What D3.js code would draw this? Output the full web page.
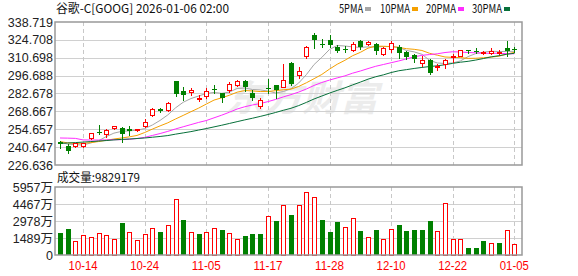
<!DOCTYPE html>
<html>
<head>
<meta charset="utf-8">
<script src="https://cdn.jsdelivr.net/npm/d3@7"></script>
<style>
  body { margin: 0; background: #fff; }
  text { font-family: "Liberation Sans", "Noto Sans CJK SC", sans-serif; }
  .cjk { font-family: "Noto Sans CJK SC", sans-serif; }
</style>
</head>
<body>
<div id="chart"></div>
<script>
const title = "谷歌-C[GOOG] 2026-01-06 02:00";

const dates = ["10-09","10-10","10-13","10-14","10-15","10-16","10-17","10-20","10-21","10-22",
  "10-23","10-24","10-27","10-28","10-29","10-30","10-31","11-03","11-04","11-05",
  "11-06","11-07","11-10","11-11","11-12","11-13","11-14","11-17","11-18","11-19",
  "11-20","11-21","11-24","11-25","11-26","11-28","12-01","12-02","12-03","12-04",
  "12-05","12-08","12-09","12-10","12-11","12-12","12-15","12-16","12-17","12-18",
  "12-19","12-22","12-23","12-24","12-26","12-29","12-30","12-31","01-02","01-05"];

const opens = [244.9, 241.7, 241.5, 241.5, 247.7, 252.2, 250.6, 255.3, 255.3, 254.5,
  253.7, 257.1, 265.7, 270.4, 269.6, 292.4, 284.8, 283.5, 278.3, 280.6,
  286.3, 282.7, 285.3, 289.2, 292.6, 282.7, 272.7, 286.6, 289.2, 288.0,
  306.2, 297.4, 311.8, 328.2, 321.8, 324.3, 318.8, 317.6, 316.6, 323.5,
  321.2, 321.5, 314.0, 317.9, 319.2, 315.3, 313.2, 306.5, 308.7, 303.3,
  305.8, 310.9, 312.1, 316.5, 316.2, 314.8, 314.2, 314.8, 318.4, 317.6];
const highs = [245.6, 243.0, 244.0, 244.2, 252.0, 257.9, 254.5, 257.4, 256.1, 257.1,
  255.0, 262.4, 271.5, 271.2, 276.1, 292.8, 287.9, 286.6, 281.7, 287.1,
  289.2, 283.2, 291.8, 293.1, 293.1, 285.3, 278.8, 294.4, 289.4, 305.5,
  307.0, 303.5, 319.8, 329.8, 325.2, 328.3, 320.3, 319.7, 323.1, 324.4,
  323.8, 322.3, 318.8, 323.6, 321.0, 315.8, 314.0, 312.4, 310.1, 305.8,
  310.1, 314.0, 317.0, 316.7, 318.3, 315.8, 318.3, 316.6, 324.0, 319.0];
const lows = [240.0, 236.4, 240.8, 240.5, 246.8, 251.0, 248.7, 254.8, 244.8, 250.1,
  253.2, 256.6, 265.0, 268.1, 269.1, 280.6, 277.6, 281.4, 277.0, 279.5,
  282.7, 276.2, 284.0, 288.4, 284.7, 277.5, 271.7, 282.7, 279.5, 287.6,
  289.0, 295.2, 310.8, 318.5, 319.0, 319.2, 315.0, 315.3, 315.8, 317.5,
  320.5, 313.4, 313.2, 315.3, 310.5, 309.8, 307.0, 304.5, 297.8, 301.0,
  302.7, 307.4, 311.9, 314.2, 314.5, 314.0, 313.5, 313.5, 311.7, 315.4];
const closes = [242.8, 237.8, 243.6, 243.8, 251.4, 251.6, 254.0, 257.1, 250.9, 253.2,
  254.5, 260.5, 270.9, 268.9, 274.9, 281.9, 281.8, 285.3, 278.9, 285.0,
  285.3, 279.3, 290.5, 292.6, 287.9, 278.8, 277.5, 286.0, 285.3, 293.2,
  290.0, 300.2, 319.0, 324.8, 321.2, 320.6, 315.8, 317.1, 321.5, 318.8,
  323.0, 315.6, 318.2, 322.2, 314.8, 311.3, 310.1, 308.7, 298.8, 304.2,
  309.3, 312.1, 316.6, 316.0, 315.8, 315.2, 315.6, 315.2, 316.0, 317.2];

// volume in 万 (10k shares)
const volumes = [1919, 2267, 1192, 1715, 1570, 1890, 1744, 1395, 2791, 1977,
  1279, 1802, 2355, 2006, 2587, 4942, 3052, 1977, 1831, 1977,
  2355, 2180, 1890, 1366, 1657, 1831, 1831, 3459, 2965, 4345,
  3488, 4419, 5552, 5116, 3052, 2006, 2878, 2413, 3198, 2093,
  1541, 2180, 1366, 2238, 2616, 2093, 2180, 2180, 2965, 2064,
  4593, 1366, 1366, 610, 610, 1221, 1017, 1047, 2151, 982.9179];

const ma5 = [244.5, 243.0, 242.6, 242.3, 243.9, 245.6, 248.9, 251.6, 253.0, 253.4,
  253.9, 255.2, 258.0, 261.6, 265.9, 271.4, 275.8, 278.7, 280.7, 282.7,
  283.5, 282.8, 283.8, 286.6, 287.0, 285.8, 285.5, 284.6, 283.1, 284.2,
  286.4, 290.9, 297.5, 305.4, 311.0, 317.2, 320.3, 319.9, 319.2, 318.8,
  319.2, 319.2, 319.4, 319.6, 318.8, 316.4, 315.3, 313.4, 308.7, 306.6,
  306.2, 306.6, 308.2, 311.6, 314.0, 315.1, 315.8, 315.6, 315.6, 315.8];
const ma10 = [245.0, 244.0, 243.6, 243.6, 244.2, 245.0, 246.0, 247.0, 247.8, 248.7,
  249.8, 252.1, 254.8, 257.3, 259.7, 262.7, 265.5, 268.4, 271.2, 274.4,
  277.5, 279.3, 281.3, 283.7, 285.0, 284.7, 284.2, 284.2, 284.9, 285.6,
  286.1, 288.2, 291.1, 294.3, 297.6, 301.8, 305.6, 308.7, 312.3, 314.9,
  318.2, 319.8, 319.7, 319.4, 318.8, 317.8, 317.3, 316.4, 314.2, 312.7,
  311.3, 311.0, 310.8, 310.2, 310.3, 310.7, 311.2, 311.9, 313.6, 314.9];
const ma20 = [247.8, 247.7, 247.5, 246.3, 246.2, 246.2, 246.3, 246.5, 246.5, 246.8,
  247.4, 248.3, 249.8, 251.3, 253.0, 254.9, 256.6, 258.3, 260.0, 261.5,
  263.6, 265.7, 268.0, 270.5, 272.3, 273.7, 274.8, 276.3, 278.0, 280.0,
  281.8, 283.8, 286.2, 289.0, 291.3, 293.2, 294.9, 296.5, 298.6, 300.3,
  302.2, 304.0, 305.4, 306.8, 308.2, 309.8, 311.4, 312.6, 313.2, 313.8,
  314.8, 315.4, 315.2, 314.8, 314.6, 314.2, 314.2, 314.2, 313.9, 313.8];
const ma30 = [243.6, 243.9, 244.2, 244.6, 245.0, 245.4, 245.8, 246.3, 246.7, 247.0,
  247.4, 247.8, 248.4, 249.0, 249.7, 250.8, 251.8, 252.8, 254.0, 255.2,
  256.5, 257.8, 259.2, 260.6, 262.0, 263.3, 264.7, 266.2, 267.8, 269.5,
  271.1, 273.2, 275.7, 278.4, 280.7, 283.0, 285.1, 287.1, 289.4, 291.6,
  293.9, 295.8, 297.3, 299.1, 300.5, 301.4, 302.3, 303.1, 303.8, 304.4,
  305.2, 306.3, 307.2, 307.9, 308.9, 310.1, 311.4, 312.3, 313.4, 314.2];

const priceTicks = [338.719, 324.708, 310.698, 296.688, 282.678, 268.667, 254.657, 240.647, 226.636];
const volTicks = [5957, 4467.75, 2978.5, 1489.25, 0];
const volTickLabels = ["5957万", "4467万", "2978万", "1489万", "0"];
const dateTicks = ["10-14", "10-24", "11-05", "11-17", "11-28", "12-10", "12-22", "01-05"];

const maNames = ["5PMA", "10PMA", "20PMA", "30PMA"];
const maColors = ["#a6a6a6", "#f5a000", "#ff2cff", "#07703a"];

const width = 578, height = 276;
const left = 55, right = 522;
const pTop = 22, pBottom = 165, vTop = 187, vBottom = 255;
const up = "#ff0000", down = "#008000";

const svg = d3.select("#chart").append("svg")
    .attr("width", width)
    .attr("height", height);

const x = d3.scalePoint().domain(dates).range([60, 514.3]);
const yP = d3.scaleLinear().domain([226.636, 338.719]).range([pBottom, pTop]);
const yV = d3.scaleLinear().domain([0, 5957]).range([vBottom, vTop]);
const px = d => Math.round(x(d));

// watermark
svg.append("text").attr("class", "cjk")
    .attr("x", 226).attr("y", 111)
    .attr("font-size", 36).attr("font-weight", "bold").attr("font-style", "italic")
    .attr("fill", "#ececec")
    .attr("textLength", 152).attr("lengthAdjust", "spacingAndGlyphs")
    .text("东方财富");

// grid lines
const grid = svg.append("g").attr("shape-rendering", "crispEdges");
grid.selectAll(".hp").data(priceTicks.slice(1, -1)).enter().append("line")
    .attr("x1", left).attr("x2", right)
    .attr("y1", d => Math.round(yP(d)) + 0.5).attr("y2", d => Math.round(yP(d)) + 0.5)
    .attr("stroke", "#d0d0d0");
grid.selectAll(".hv").data(volTicks.slice(1, -1)).enter().append("line")
    .attr("x1", left).attr("x2", right)
    .attr("y1", d => Math.round(yV(d)) + 0.5).attr("y2", d => Math.round(yV(d)) + 0.5)
    .attr("stroke", "#d0d0d0");
[[pTop, pBottom], [vTop, vBottom]].forEach(([t, b]) => {
    grid.selectAll(null).data(dateTicks).enter().append("line")
        .attr("x1", d => px(d) + 0.5).attr("x2", d => px(d) + 0.5)
        .attr("y1", t).attr("y2", b)
        .attr("stroke", "#c8c8c8")
        .attr("stroke-dasharray", "4,3");
});

// moving averages
const idx = d3.range(dates.length);
[ma5, ma10, ma20, ma30].forEach((ma, k) => {
    const line = d3.line().x(i => x(dates[i])).y(i => yP(ma[i]));
    svg.append("path")
        .datum(idx)
        .attr("d", line)
        .attr("fill", "none")
        .attr("stroke", maColors[k])
        .attr("stroke-width", 1);
});

// candles
const candles = svg.append("g").attr("shape-rendering", "crispEdges")
    .selectAll("g").data(idx).enter().append("g");
candles.append("line")
    .attr("x1", i => px(dates[i]) + 0.5).attr("x2", i => px(dates[i]) + 0.5)
    .attr("y1", i => Math.round(yP(highs[i]))).attr("y2", i => Math.round(yP(lows[i])) + 1)
    .attr("stroke", i => closes[i] >= opens[i] ? up : down);
candles.append("rect")
    .attr("x", i => closes[i] >= opens[i] ? px(dates[i]) - 1.5 : px(dates[i]) - 2)
    .attr("width", i => closes[i] >= opens[i] ? 4 : 5)
    .attr("y", i => {
        const t = Math.round(yP(Math.max(opens[i], closes[i])));
        return closes[i] >= opens[i] ? t + 0.5 : t;
    })
    .attr("height", i => {
        const t = Math.round(yP(Math.max(opens[i], closes[i])));
        const b = Math.round(yP(Math.min(opens[i], closes[i])));
        return closes[i] >= opens[i] ? Math.max(0, b - t) : Math.max(1, b - t);
    })
    .attr("fill", i => closes[i] >= opens[i] ? "#fff" : down)
    .attr("stroke", i => closes[i] >= opens[i] ? up : "none");

// volume bars (colour by close vs previous close)
const volUp = i => i === 0 ? closes[0] >= opens[0] : closes[i] >= closes[i - 1];
svg.append("g").attr("shape-rendering", "crispEdges")
    .selectAll("rect").data(idx).enter().append("rect")
    .attr("x", i => volUp(i) ? px(dates[i]) - 1.5 : px(dates[i]) - 2)
    .attr("width", i => volUp(i) ? 4 : 5)
    .attr("y", i => Math.round(yV(volumes[i])) + (volUp(i) ? 0.5 : 0))
    .attr("height", i => vBottom - Math.round(yV(volumes[i])) - (volUp(i) ? 0.5 : 0))
    .attr("fill", i => volUp(i) ? "#fff" : down)
    .attr("stroke", i => volUp(i) ? up : "none");

// frames
[[pTop, pBottom], [vTop, vBottom]].forEach(([t, b]) => {
    svg.append("rect")
        .attr("x", left).attr("y", t)
        .attr("width", right - left).attr("height", b - t)
        .attr("fill", "none")
        .attr("stroke", "#999")
        .attr("stroke-width", 1.5);
});

// axis labels
svg.selectAll(".pl").data(priceTicks).enter().append("text")
    .attr("x", 53).attr("y", d => yP(d))
    .attr("dy", "0.36em")
    .attr("text-anchor", "end")
    .attr("font-size", 12.5)
    .attr("fill", "#222")
    .text(d => d.toFixed(3));
svg.selectAll(".vl").data(volTicks).enter().append("text")
    .attr("x", 53).attr("y", d => yV(d))
    .attr("dy", "0.36em")
    .attr("text-anchor", "end")
    .attr("font-size", 12.5)
    .attr("fill", "#222")
    .text((d, i) => volTickLabels[i]);
svg.selectAll(".dl").data(dateTicks).enter().append("text")
    .attr("x", d => x(d)).attr("y", 270)
    .attr("text-anchor", "middle")
    .attr("font-size", 12)
    .attr("fill", "#ff0000")
    .attr("textLength", 29).attr("lengthAdjust", "spacingAndGlyphs")
    .text(d => d);

// title, legend, volume caption
svg.append("text").attr("class", "cjk")
    .attr("x", 56).attr("y", 13)
    .attr("font-size", 12).attr("fill", "#111")
    .attr("textLength", 173).attr("lengthAdjust", "spacingAndGlyphs")
    .text(title);

const legX = [339, 380, 426, 472];
const legW = [24, 30, 30, 30];
maNames.forEach((name, k) => {
    svg.append("text").attr("class", "cjk")
        .attr("x", legX[k]).attr("y", 13)
        .attr("font-size", 12).attr("fill", "#111")
        .attr("textLength", legW[k]).attr("lengthAdjust", "spacingAndGlyphs")
        .text(name);
    svg.append("rect")
        .attr("x", legX[k] + legW[k] + 2).attr("y", 7)
        .attr("width", 6).attr("height", 4)
        .attr("fill", maColors[k]);
});

svg.append("text").attr("class", "cjk")
    .attr("x", 57).attr("y", 182)
    .attr("font-size", 12).attr("fill", "#111")
    .attr("textLength", 83).attr("lengthAdjust", "spacingAndGlyphs")
    .text("成交量:" + Math.round(volumes[volumes.length - 1] * 10000));
</script>
</body>
</html>
